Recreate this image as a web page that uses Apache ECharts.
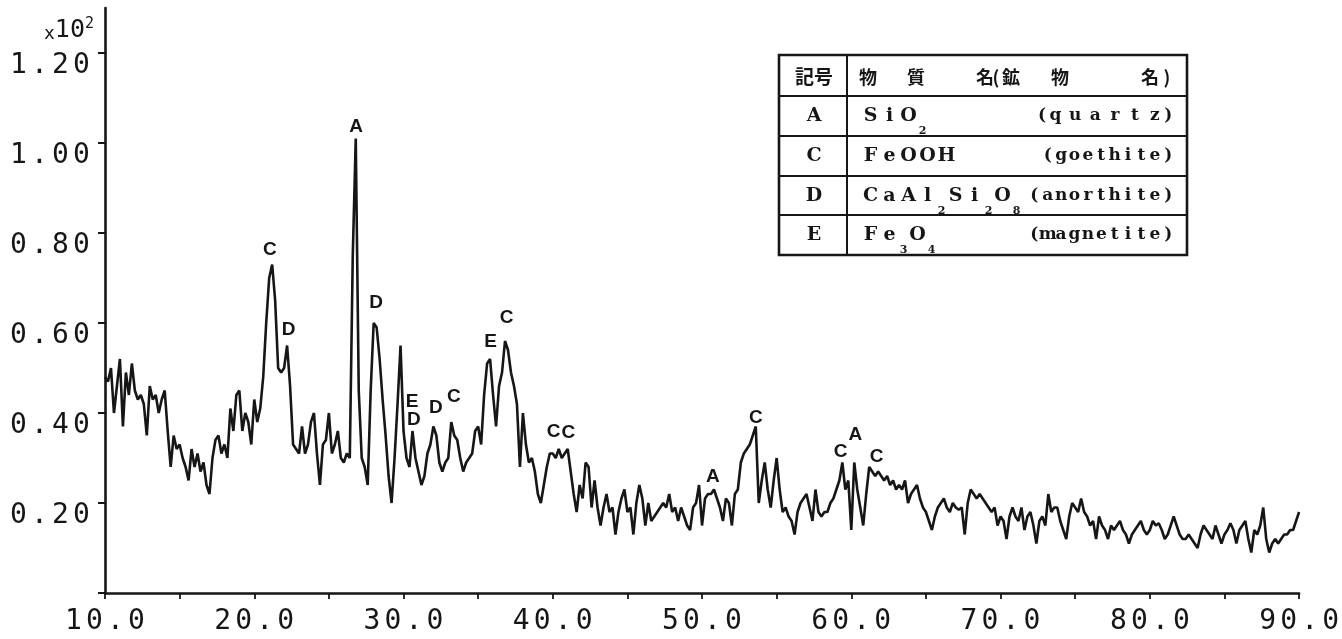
<!DOCTYPE html>
<html>
<head>
<meta charset="utf-8">
<script src="https://cdn.jsdelivr.net/npm/echarts@6/dist/echarts.min.js"></script>
<style>
  html, body { margin: 0; padding: 0; background: #ffffff; }
  #chart { width: 1342px; height: 639px; }
</style>
</head>
<body>
<div id="chart"></div>
<script>
// X-ray diffraction pattern: intensity (x10^2 counts) against 2θ (deg), sampled every 0.2°
const ANGLE_START = 10.0;
const ANGLE_STEP = 0.2;

// 10.0 – 19.8°
const intensity10 = [
  0.48, 0.47, 0.50, 0.40, 0.46, 0.52, 0.37, 0.49, 0.44, 0.51,
  0.45, 0.43, 0.44, 0.42, 0.35, 0.46, 0.43, 0.44, 0.40, 0.43,
  0.45, 0.36, 0.28, 0.35, 0.32, 0.33, 0.30, 0.28, 0.25, 0.32,
  0.28, 0.31, 0.27, 0.29, 0.24, 0.22, 0.30, 0.34, 0.35, 0.31,
  0.33, 0.30, 0.41, 0.36, 0.44, 0.45, 0.36, 0.40, 0.38, 0.33
];
// 20.0 – 29.8°
const intensity20 = [
  0.43, 0.38, 0.41, 0.48, 0.60, 0.70, 0.73, 0.65, 0.50, 0.49,
  0.50, 0.55, 0.46, 0.33, 0.32, 0.31, 0.37, 0.31, 0.33, 0.38,
  0.40, 0.31, 0.24, 0.33, 0.34, 0.40, 0.31, 0.33, 0.36, 0.30,
  0.29, 0.31, 0.30, 0.75, 1.01, 0.45, 0.30, 0.28, 0.24, 0.45,
  0.60, 0.59, 0.52, 0.43, 0.35, 0.26, 0.20, 0.30, 0.42, 0.55
];
// 30.0 – 39.8°
const intensity30 = [
  0.36, 0.30, 0.28, 0.36, 0.30, 0.27, 0.24, 0.26, 0.31, 0.33,
  0.37, 0.35, 0.29, 0.27, 0.29, 0.30, 0.38, 0.35, 0.34, 0.30,
  0.27, 0.29, 0.30, 0.31, 0.36, 0.37, 0.33, 0.44, 0.51, 0.52,
  0.44, 0.37, 0.46, 0.49, 0.56, 0.54, 0.49, 0.46, 0.42, 0.28,
  0.40, 0.33, 0.29, 0.30, 0.27, 0.22, 0.20, 0.24, 0.28, 0.31
];
// 40.0 – 49.8°
const intensity40 = [
  0.31, 0.30, 0.32, 0.30, 0.31, 0.32, 0.27, 0.22, 0.18, 0.24,
  0.21, 0.29, 0.28, 0.19, 0.25, 0.19, 0.15, 0.19, 0.22, 0.18,
  0.19, 0.13, 0.18, 0.21, 0.23, 0.18, 0.19, 0.13, 0.20, 0.24,
  0.21, 0.15, 0.20, 0.16, 0.17, 0.18, 0.19, 0.20, 0.19, 0.22,
  0.18, 0.19, 0.16, 0.19, 0.17, 0.15, 0.14, 0.19, 0.20, 0.24
];
// 50.0 – 59.8°
const intensity50 = [
  0.15, 0.21, 0.22, 0.22, 0.23, 0.21, 0.19, 0.16, 0.21, 0.20,
  0.15, 0.22, 0.23, 0.29, 0.31, 0.32, 0.33, 0.35, 0.37, 0.20,
  0.25, 0.29, 0.23, 0.19, 0.25, 0.30, 0.23, 0.18, 0.19, 0.17,
  0.16, 0.13, 0.18, 0.20, 0.21, 0.22, 0.19, 0.16, 0.23, 0.18,
  0.17, 0.18, 0.18, 0.20, 0.21, 0.23, 0.25, 0.29, 0.23, 0.25
];
// 60.0 – 69.8°
const intensity60 = [
  0.14, 0.29, 0.23, 0.19, 0.15, 0.22, 0.28, 0.27, 0.26, 0.27,
  0.26, 0.25, 0.26, 0.24, 0.25, 0.23, 0.24, 0.23, 0.25, 0.20,
  0.22, 0.23, 0.24, 0.21, 0.19, 0.18, 0.16, 0.14, 0.17, 0.19,
  0.20, 0.21, 0.19, 0.18, 0.20, 0.19, 0.185, 0.19, 0.13, 0.20,
  0.23, 0.22, 0.21, 0.22, 0.21, 0.20, 0.19, 0.18, 0.19, 0.15
];
// 70.0 – 79.8°
const intensity70 = [
  0.17, 0.16, 0.12, 0.17, 0.19, 0.17, 0.16, 0.19, 0.14, 0.17,
  0.18, 0.15, 0.11, 0.16, 0.17, 0.15, 0.22, 0.18, 0.19, 0.19,
  0.16, 0.14, 0.12, 0.17, 0.20, 0.19, 0.18, 0.21, 0.18, 0.17,
  0.15, 0.16, 0.12, 0.17, 0.15, 0.14, 0.12, 0.15, 0.14, 0.15,
  0.16, 0.14, 0.13, 0.11, 0.13, 0.14, 0.15, 0.16, 0.14, 0.13
];
// 80.0 – 90.0°
const intensity80 = [
  0.14, 0.16, 0.15, 0.155, 0.14, 0.12, 0.13, 0.15, 0.17, 0.15,
  0.13, 0.12, 0.12, 0.13, 0.12, 0.11, 0.10, 0.13, 0.15, 0.14,
  0.13, 0.12, 0.15, 0.13, 0.11, 0.13, 0.14, 0.155, 0.14, 0.11,
  0.14, 0.15, 0.16, 0.12, 0.09, 0.14, 0.13, 0.15, 0.19, 0.12,
  0.09, 0.11, 0.12, 0.11, 0.12, 0.13, 0.13, 0.14, 0.14, 0.16,
  0.18
];

const xTickLabels = [10, 20, 30, 40, 50, 60, 70, 80, 90];
const xMinorTicks = [10, 15, 20, 25, 30, 35, 40, 45, 50, 55, 60, 65, 70, 75, 80, 85, 90];
const yTickLabels = [0.2, 0.4, 0.6, 0.8, 1.0, 1.2];

// Phase markers: [symbol, 2θ, intensity at the letter]
const peakMarks = [
  ['C', 21.05, 0.762], ['D', 22.30, 0.584], ['A', 26.83, 1.036], ['D', 28.16, 0.644],
  ['E', 30.57, 0.424], ['D', 30.70, 0.384], ['D', 32.17, 0.411], ['C', 33.37, 0.436],
  ['E', 35.84, 0.558], ['C', 36.91, 0.611], ['C', 40.05, 0.358], ['C', 41.05, 0.356],
  ['A', 50.73, 0.258], ['C', 53.61, 0.389], ['C', 59.28, 0.313], ['A', 60.28, 0.351],
  ['C', 61.69, 0.302]
];

// Legend table contents
const tableHeaderSymbol = '記号';
const tableHeaderName = [['物', 868], ['質', 916], ['名', 985], ['(', 996], ['鉱', 1011], ['物', 1060], ['名', 1150], [')', 1167]];
const tableSymbols = ['A', 'C', 'D', 'E'];
const tableFormulas = ['SiO_2', 'FeOOH', 'CaAl_2Si_2O_8', 'Fe_3O_4'];
const tableMinerals = ['(q u a r t z)', '(goethite)', '(anorthite)', '(magnetite)'];

const intensity = [].concat(intensity10, intensity20, intensity30, intensity40,
                            intensity50, intensity60, intensity70, intensity80);
const pattern = intensity.map((v, i) => [Number((ANGLE_START + i * ANGLE_STEP).toFixed(1)), v]);

const INK = '#161616';
const MONO = '"DejaVu Sans Mono", "Liberation Mono", monospace';
const SERIF = '"DejaVu Serif", "Liberation Serif", serif';

// plotter-style tick labels: every character sits in a fixed-width cell
function spaced(str) {
  return str.split('').map(ch => '{c|' + ch + '}').join('');
}
const tickRich = { c: { fontFamily: MONO, fontSize: 28, width: 21, align: 'center', color: INK } };

function formulaRich(f) {
  let out = '';
  for (let i = 0; i < f.length; i++) {
    if (f[i] === '_') { out += '{s|' + f[i + 1] + '}'; i++; }
    else out += '{n|' + f[i] + '}';
  }
  return out;
}
function mineralRich(m) {
  return m.split('').map(ch => ch === ' ' ? '{sp| }' : '{m|' + ch + '}').join('');
}

// Table geometry
const T = { x: 779, y: 55, w: 408, h: 200, col: 847, rows: [96, 136, 176, 215] };
const rowCenters = [116, 156, 196, 235];

const tableRich = {
  n: { fontFamily: SERIF, fontWeight: 'bold', fontSize: 19, width: 19, align: 'center', lineHeight: 42, fill: INK },
  s: { fontFamily: SERIF, fontWeight: 'bold', fontSize: 11, width: 9, align: 'center', verticalAlign: 'bottom', fill: INK },
  m: { fontFamily: SERIF, fontWeight: 'bold', fontSize: 17, width: 13.4, align: 'center', fill: INK },
  sp: { fontFamily: SERIF, fontSize: 17, width: 6.5, align: 'center', fill: INK }
};

const graphics = [];
graphics.push({
  type: 'rect', z: 10,
  shape: { x: T.x, y: T.y, width: T.w, height: T.h },
  style: { fill: '#ffffff', stroke: INK, lineWidth: 2.6 }
});
graphics.push({
  type: 'line', z: 11,
  shape: { x1: T.col, y1: T.y, x2: T.col, y2: T.y + T.h },
  style: { stroke: INK, lineWidth: 2 }
});
T.rows.forEach(ry => graphics.push({
  type: 'line', z: 11,
  shape: { x1: T.x, y1: ry, x2: T.x + T.w, y2: ry },
  style: { stroke: INK, lineWidth: 2 }
}));
graphics.push({
  type: 'text', z: 12,
  style: { text: tableHeaderSymbol, x: 814, y: 77, align: 'center', verticalAlign: 'middle',
           font: 'bold 19px "Noto Sans CJK JP"', fill: INK }
});
tableHeaderName.forEach(([t, cx]) => graphics.push({
  type: 'text', z: 12,
  style: { text: t, x: cx, y: 77, align: 'center', verticalAlign: 'middle',
           font: 'bold 18px "Noto Sans CJK JP"', fill: INK }
}));
tableSymbols.forEach((s, i) => {
  graphics.push({
    type: 'text', z: 12,
    style: { text: s, x: 814, y: rowCenters[i], align: 'center', verticalAlign: 'middle',
             font: 'bold 19px ' + SERIF, fill: INK }
  });
  graphics.push({
    type: 'text', z: 12,
    style: { text: formulaRich(tableFormulas[i]), rich: tableRich, x: 861, y: rowCenters[i],
             align: 'left', verticalAlign: 'middle', fill: INK }
  });
  graphics.push({
    type: 'text', z: 12,
    style: { text: mineralRich(tableMinerals[i]), rich: tableRich, x: 1175, y: rowCenters[i],
             align: 'right', verticalAlign: 'middle', fill: INK }
  });
});
// Axis unit multiplier
graphics.push({
  type: 'text', z: 12,
  style: {
    text: '{x|x}{d|10}{e|2}', x: 44, y: 30, align: 'left', verticalAlign: 'middle',
    rich: {
      x: { fontFamily: MONO, fontSize: 18, fill: INK, lineHeight: 26, verticalAlign: 'bottom' },
      d: { fontFamily: MONO, fontSize: 25, fill: INK, lineHeight: 26 },
      e: { fontFamily: MONO, fontSize: 15, fill: INK, verticalAlign: 'top' }
    }
  }
});

const chart = echarts.init(document.getElementById('chart'), null, { renderer: 'canvas' });
chart.setOption({
  animation: false,
  backgroundColor: '#ffffff',
  grid: { left: 105, right: 39, top: 8, bottom: 46, containLabel: false },
  xAxis: {
    type: 'value', min: 10, max: 90, interval: 10,
    axisLine: { show: true, lineStyle: { color: INK, width: 2.6 } },
    axisTick: { show: true, length: 6, lineStyle: { color: INK, width: 1.8 }, customValues: xMinorTicks },
    axisLabel: {
      show: true, margin: 15, customValues: xTickLabels,
      formatter: v => spaced(v.toFixed(1)),
      rich: tickRich
    },
    splitLine: { show: false }
  },
  yAxis: {
    type: 'value', min: 0, max: 1.3, interval: 0.2,
    axisLine: { show: true, lineStyle: { color: INK, width: 2.6 } },
    axisTick: { show: true, length: 7, lineStyle: { color: INK, width: 2 }, customValues: [0].concat(yTickLabels) },
    axisLabel: {
      show: true, margin: 13, customValues: yTickLabels,
      formatter: v => spaced(v.toFixed(2)),
      rich: tickRich,
      padding: [26, 0, 0, 0]
    },
    splitLine: { show: false }
  },
  series: [{
    type: 'line',
    data: pattern,
    showSymbol: false,
    smooth: false,
    lineStyle: { color: INK, width: 2.6 },
    markPoint: {
      symbol: 'rect', symbolSize: 1,
      itemStyle: { color: 'rgba(0,0,0,0)' },
      label: {
        show: true, position: 'inside', formatter: '{b}',
        fontFamily: '"Liberation Sans", Arial, sans-serif', fontWeight: 'bold', fontSize: 19, color: INK
      },
      data: peakMarks.map(([n, x, y]) => ({ name: n, coord: [x, y] }))
    }
  }],
  graphic: graphics
});
</script>
</body>
</html>
